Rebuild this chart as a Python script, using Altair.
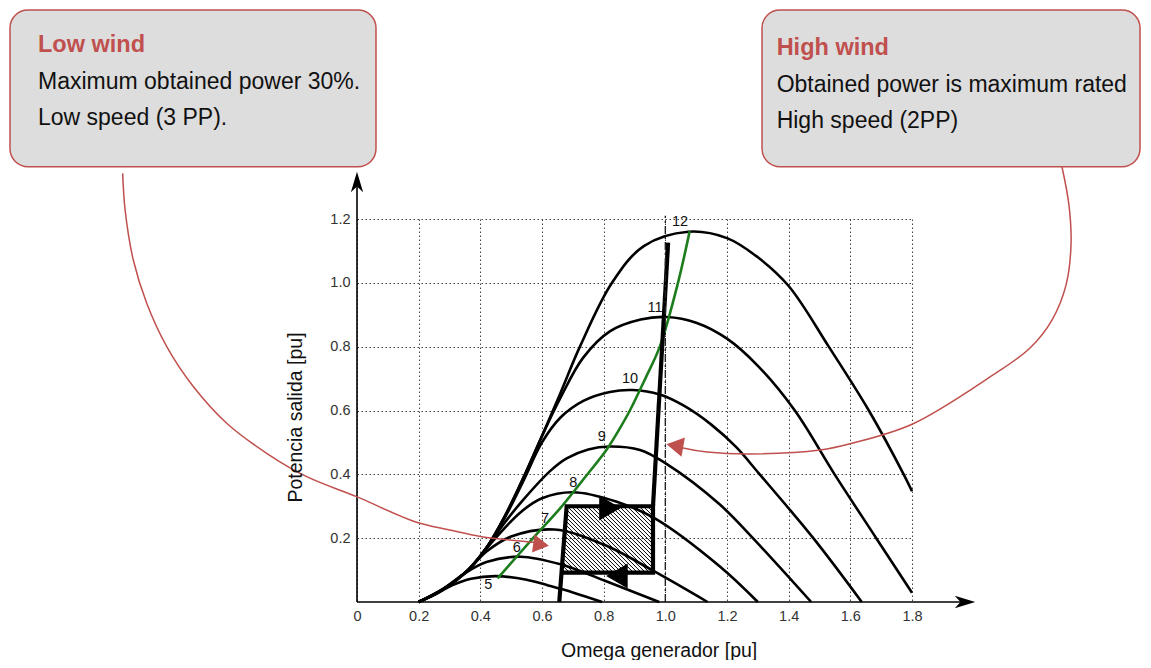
import altair as alt
import numpy as np
import pandas as pd

# ---------------- values ----------------
wind_speeds = [5, 6, 7, 8, 9, 10, 11, 12]

omega_5 = [0.20, 0.25, 0.31, 0.37, 0.45, 0.55, 0.62, 0.70, 0.795]
power_5 = [0.000, 0.022, 0.053, 0.073, 0.081, 0.070, 0.052, 0.030, 0.000]

omega_6 = [0.20, 0.28, 0.35, 0.42, 0.53, 0.66, 0.80, 0.98]
power_6 = [0.000, 0.042, 0.090, 0.125, 0.142, 0.118, 0.068, 0.000]

omega_7 = [0.20, 0.28, 0.36, 0.42, 0.50, 0.64, 0.80, 0.966, 1.137]
power_7 = [0.000, 0.041, 0.100, 0.158, 0.205, 0.227, 0.180, 0.095, 0.000]

omega_8 = [0.20, 0.28, 0.36, 0.44, 0.529, 0.60, 0.70, 0.84, 0.966, 1.176, 1.30]
power_8 = [0.000, 0.040, 0.100, 0.190, 0.280, 0.325, 0.344, 0.315, 0.262, 0.112, 0.000]

omega_9 = [0.20, 0.28, 0.36, 0.42, 0.48, 0.539, 0.626, 0.68, 0.75, 0.82, 0.918, 1.00, 1.176, 1.284, 1.473]
power_9 = [0.000, 0.040, 0.100, 0.170, 0.250, 0.320, 0.410, 0.450, 0.478, 0.487, 0.476, 0.435, 0.306, 0.200, 0.000]

omega_10 = [0.20, 0.28, 0.36, 0.42, 0.48, 0.54, 0.60, 0.66, 0.734, 0.82, 0.895, 0.982, 1.06, 1.15, 1.23, 1.306, 1.48, 1.637]
power_10 = [0.000, 0.040, 0.100, 0.170, 0.265, 0.380, 0.500, 0.578, 0.630, 0.658, 0.664, 0.650, 0.615, 0.555, 0.485, 0.400, 0.200, 0.000]

omega_11 = [0.20, 0.28, 0.36, 0.42, 0.48, 0.54, 0.60, 0.66, 0.733, 0.82, 0.92, 1.005, 1.10, 1.20, 1.30, 1.42, 1.549, 1.684, 1.80]
power_11 = [0.000, 0.040, 0.100, 0.170, 0.270, 0.390, 0.520, 0.640, 0.765, 0.848, 0.885, 0.893, 0.875, 0.825, 0.740, 0.600, 0.400, 0.200, 0.029]

omega_12 = [0.20, 0.28, 0.36, 0.42, 0.48, 0.54, 0.60, 0.66, 0.723, 0.827, 0.93, 1.075, 1.20, 1.30, 1.40, 1.53, 1.66, 1.773, 1.80]
power_12 = [0.000, 0.040, 0.100, 0.170, 0.270, 0.390, 0.520, 0.655, 0.800, 1.000, 1.115, 1.160, 1.140, 1.080, 0.990, 0.800, 0.600, 0.400, 0.347]

# optimum-power (green) curve
mppt_omega = [0.456, 0.571, 0.66, 0.739, 0.81, 0.85, 0.885, 0.935, 0.982, 1.041, 1.079]
mppt_power = [0.074, 0.200, 0.295, 0.390, 0.478, 0.540, 0.600, 0.700, 0.800, 1.000, 1.162]

# operating path (thick black)
path_omega = [0.656, 0.680, 0.960, 0.960, 0.6634]
path_power = [0.000, 0.300, 0.300, 0.092, 0.092]
rated_omega = [0.960, 1.009]
rated_power = [0.300, 1.126]

# hatched hysteresis box
box_left_bottom = 0.6634
box_left_slope = 0.08
box_right = 0.960
box_bottom = 0.092
box_top = 0.300

x_ticks = [0, 0.2, 0.4, 0.6, 0.8, 1.0, 1.2, 1.4, 1.6, 1.8]
y_ticks = [0.2, 0.4, 0.6, 0.8, 1.0, 1.2]

label_omega = [0.426, 0.518, 0.61, 0.7015, 0.7936, 0.8854, 0.9665, 1.0476]
label_power = [0.053, 0.168, 0.259, 0.372, 0.518, 0.698, 0.920, 1.1915]

# callouts (in axis units)
low_call_omega = [-0.760, -0.752, -0.7255, -0.682, -0.617, -0.531, -0.4226, -0.293, -0.163, -0.001, 0.188, 0.3016, 0.4044, 0.5718, 0.60]
low_call_power = [1.343, 1.228, 1.0715, 0.936, 0.800, 0.675, 0.560, 0.466, 0.3926, 0.330, 0.2516, 0.2256, 0.2046, 0.187, 0.183]
high_call_omega = [2.2865, 2.309, 2.3157, 2.2995, 2.254, 2.1827, 2.053, 1.802, 1.6087, 1.5016, 1.2746, 1.135, 1.057, 1.03]
high_call_power = [1.363, 1.244, 1.1185, 0.993, 0.8835, 0.796, 0.705, 0.5577, 0.498, 0.476, 0.4637, 0.470, 0.4825, 0.49]

callout_x1 = [-1.1254, 1.3135]
callout_x2 = [0.0616, 2.5395]
callout_y1 = [1.3639, 1.3639]
callout_y2 = [1.8548, 1.8548]

callout_titles = ["Low wind", "High wind"]
callout_title_x = [-1.0346, 1.361]
callout_title_y = [1.723, 1.714]
callout_lines = ["Maximum obtained power 30%.", "Low speed (3 PP).",
                 "Obtained power is maximum rated", "High speed (2PP)"]
callout_line_x = [-1.0346, -1.0346, 1.361, 1.361]
callout_line_y = [1.607, 1.4945, 1.598, 1.485]

# ---------------- layout ----------------
W, H = 555, 383
XD, YD = [0, 1.8], [0, 1.2]
SX, SY = W / (XD[1] - XD[0]), H / (YD[1] - YD[0])
FONT = "Liberation Sans"
RED = "#c0504d"
TICK_FS = 14.5

x_axis = alt.Axis(values=x_ticks, grid=True, gridDash=[1.5, 2.5], gridColor="#444", gridWidth=1,
                  domain=False, ticks=False, labelFont=FONT, labelFontSize=TICK_FS, labelColor="#333",
                  labelPadding=7, title=None, labelFlush=False,
                  labelExpr="datum.value == 0 ? '0' : format(datum.value, '.1f')")
y_axis = alt.Axis(values=y_ticks, grid=True, gridDash=[1.5, 2.5], gridColor="#444", gridWidth=1,
                  domain=False, ticks=False, labelFont=FONT, labelFontSize=TICK_FS, labelColor="#333",
                  labelPadding=7, title=None, labelFlush=False,
                  labelExpr="format(datum.value, '.1f')")


def X(f):
    return alt.X(f, type="quantitative", scale=alt.Scale(domain=XD, nice=False, zero=False), axis=x_axis)


def Y(f):
    return alt.Y(f, type="quantitative", scale=alt.Scale(domain=YD, nice=False, zero=False), axis=y_axis)


# ---------------- tables ----------------
omegas = [omega_5, omega_6, omega_7, omega_8, omega_9, omega_10, omega_11, omega_12]
powers = [power_5, power_6, power_7, power_8, power_9, power_10, power_11, power_12]
rows = []
for v, om, pw in zip(wind_speeds, omegas, powers):
    for i, (o, p) in enumerate(zip(om, pw)):
        rows.append({"speed": v, "omega": o, "power": p, "i": i})
curves = pd.DataFrame(rows)

mppt = pd.DataFrame({"omega": mppt_omega, "power": mppt_power, "i": range(len(mppt_omega))})

path_rows = [{"seg": "box", "omega": o, "power": p, "i": i} for i, (o, p) in enumerate(zip(path_omega, path_power))]
path_rows += [{"seg": "rated", "omega": o, "power": p, "i": i} for i, (o, p) in enumerate(zip(rated_omega, rated_power))]
path_df = pd.DataFrame(path_rows)

# hatch pattern segments (diagonal "\" lines clipped to the box)
hatch = []
a0 = box_left_bottom - box_left_slope * box_bottom
umin = SX * box_left_bottom + SY * box_bottom
umax = SX * box_right + SY * box_top
for u in np.arange(umin, umax, 4.0):
    y_lo = max(box_bottom, (u - SX * box_right) / SY)
    y_hi = min(box_top, (u - SX * a0) / (SY + SX * box_left_slope))
    if y_hi > y_lo:
        hatch.append({"omega": (u - SY * y_lo) / SX, "power": y_lo,
                      "omega2": (u - SY * y_hi) / SX, "power2": y_hi})
hatch_df = pd.DataFrame(hatch)

calls = pd.DataFrame(
    [{"side": "low", "omega": o, "power": p, "i": i} for i, (o, p) in enumerate(zip(low_call_omega, low_call_power))]
    + [{"side": "high", "omega": o, "power": p, "i": i} for i, (o, p) in enumerate(zip(high_call_omega, high_call_power))]
)
boxes = pd.DataFrame({"omega": callout_x1, "omega2": callout_x2, "power": callout_y1, "power2": callout_y2})
titles = pd.DataFrame({"omega": callout_title_x, "power": callout_title_y, "t": callout_titles})
lines_df = pd.DataFrame({"omega": callout_line_x, "power": callout_line_y, "t": callout_lines})
labels = pd.DataFrame({"omega": label_omega, "power": label_power, "t": [str(v) for v in wind_speeds]})


def pts(xs_, ys_):
    return pd.DataFrame({"omega": xs_, "power": ys_})


# ---------------- layers ----------------
box_layer = alt.Chart(boxes).mark_rect(cornerRadius=18, fill="#dddddd", stroke=RED, strokeWidth=1.5).encode(
    x=X("omega"), x2="omega2", y=Y("power"), y2="power2")

curve_layer = alt.Chart(curves).mark_line(interpolate="catmull-rom", color="black", strokeWidth=2.6).encode(
    x=X("omega"), y=Y("power"), detail="speed:N", order="i:Q")

mppt_layer = alt.Chart(mppt).mark_line(interpolate="catmull-rom", color="#1d7d1d", strokeWidth=2.6).encode(
    x=X("omega"), y=Y("power"), order="i:Q")

hatch_layer = alt.Chart(hatch_df).mark_rule(color="black", strokeWidth=1).encode(
    x=X("omega"), y=Y("power"), x2="omega2", y2="power2")

path_layer = alt.Chart(path_df).mark_line(color="black", strokeWidth=4.2, strokeJoin="miter").encode(
    x=X("omega"), y=Y("power"), detail="seg:N", order="i:Q")

rated_line = alt.Chart(pd.DataFrame({"omega": [1.0], "power": [0.0], "power2": [1.21]})).mark_rule(
    color="#222", strokeWidth=1.4, strokeDash=[8, 3, 2, 3]).encode(x=X("omega"), y=Y("power"), y2="power2")

box_arrows_r = alt.Chart(pts([0.8205], [0.2945])).mark_point(
    shape="triangle-right", filled=True, color="black", size=620, opacity=1).encode(x=X("omega"), y=Y("power"))
box_arrows_l = alt.Chart(pts([0.843], [0.0815])).mark_point(
    shape="triangle-left", filled=True, color="black", size=620, opacity=1).encode(x=X("omega"), y=Y("power"))

axis_lines = alt.Chart(pd.DataFrame({"omega": [0.0, 0.0], "power": [0.0, 0.0],
                                     "omega2": [1.99, 0.0], "power2": [0.0, 1.32]})).mark_rule(
    color="black", strokeWidth=1.6).encode(x=X("omega"), y=Y("power"), x2="omega2", y2="power2")
x_arrow = alt.Chart(pts([1.972], [0.0])).mark_point(
    shape="M1,0L-1,-0.6L-0.45,0L-1,0.6Z", filled=True, color="black", size=420, opacity=1).encode(
    x=X("omega"), y=Y("power"))
y_arrow = alt.Chart(pts([0.0], [1.316])).mark_point(
    shape="M0,-1L-0.6,1L0,0.45L0.6,1Z", filled=True, color="black", size=420, opacity=1).encode(
    x=X("omega"), y=Y("power"))

call_layer = alt.Chart(calls).mark_line(interpolate="catmull-rom", color=RED, strokeWidth=1.5).encode(
    x=X("omega"), y=Y("power"), detail="side:N", order="i:Q")
red_arrow_r = alt.Chart(pts([0.597], [0.18])).mark_point(
    shape="triangle-right", filled=True, color=RED, size=330, angle=8, opacity=1).encode(x=X("omega"), y=Y("power"))
red_arrow_l = alt.Chart(pts([1.031], [0.49])).mark_point(
    shape="triangle-left", filled=True, color=RED, size=380, angle=10, opacity=1).encode(x=X("omega"), y=Y("power"))

label_layer = alt.Chart(labels).mark_text(font=FONT, fontSize=14.5, color="#111").encode(
    x=X("omega"), y=Y("power"), text="t:N")

title_layer = alt.Chart(titles).mark_text(font=FONT, fontSize=23.5, fontWeight="bold", color=RED,
                                          align="left", baseline="alphabetic").encode(
    x=X("omega"), y=Y("power"), text="t:N")
line_layer = alt.Chart(lines_df).mark_text(font=FONT, fontSize=23, color="#111",
                                           align="left", baseline="alphabetic").encode(
    x=X("omega"), y=Y("power"), text="t:N")

x_title = alt.Chart(pd.DataFrame({"omega": [0.98], "power": [-0.1723], "t": ["Omega generador [pu]"]})).mark_text(
    font=FONT, fontSize=19.5, color="#111", align="center", baseline="alphabetic").encode(
    x=X("omega"), y=Y("power"), text="t:N")
y_title = alt.Chart(pd.DataFrame({"omega": [-0.178], "power": [0.578], "t": ["Potencia salida [pu]"]})).mark_text(
    font=FONT, fontSize=19.5, color="#111", align="center", baseline="alphabetic", angle=270).encode(
    x=X("omega"), y=Y("power"), text="t:N")

chart = alt.layer(
    curve_layer, box_layer, mppt_layer, hatch_layer, path_layer, rated_line,
    box_arrows_r, box_arrows_l, axis_lines, x_arrow, y_arrow,
    call_layer, red_arrow_r, red_arrow_l, label_layer, title_layer, line_layer,
    x_title, y_title,
).properties(
    width=W, height=H,
    autosize=alt.AutoSizeParams(type="none"),
    padding={"left": 349, "top": 211, "right": 231, "bottom": 58},
    background="white",
).configure_view(stroke=None).configure_axis(
    labelFontSize=TICK_FS, labelFont=FONT, labelColor="#333"
)

chart.save("out.html", embed_options={"renderer": "svg", "actions": False})
